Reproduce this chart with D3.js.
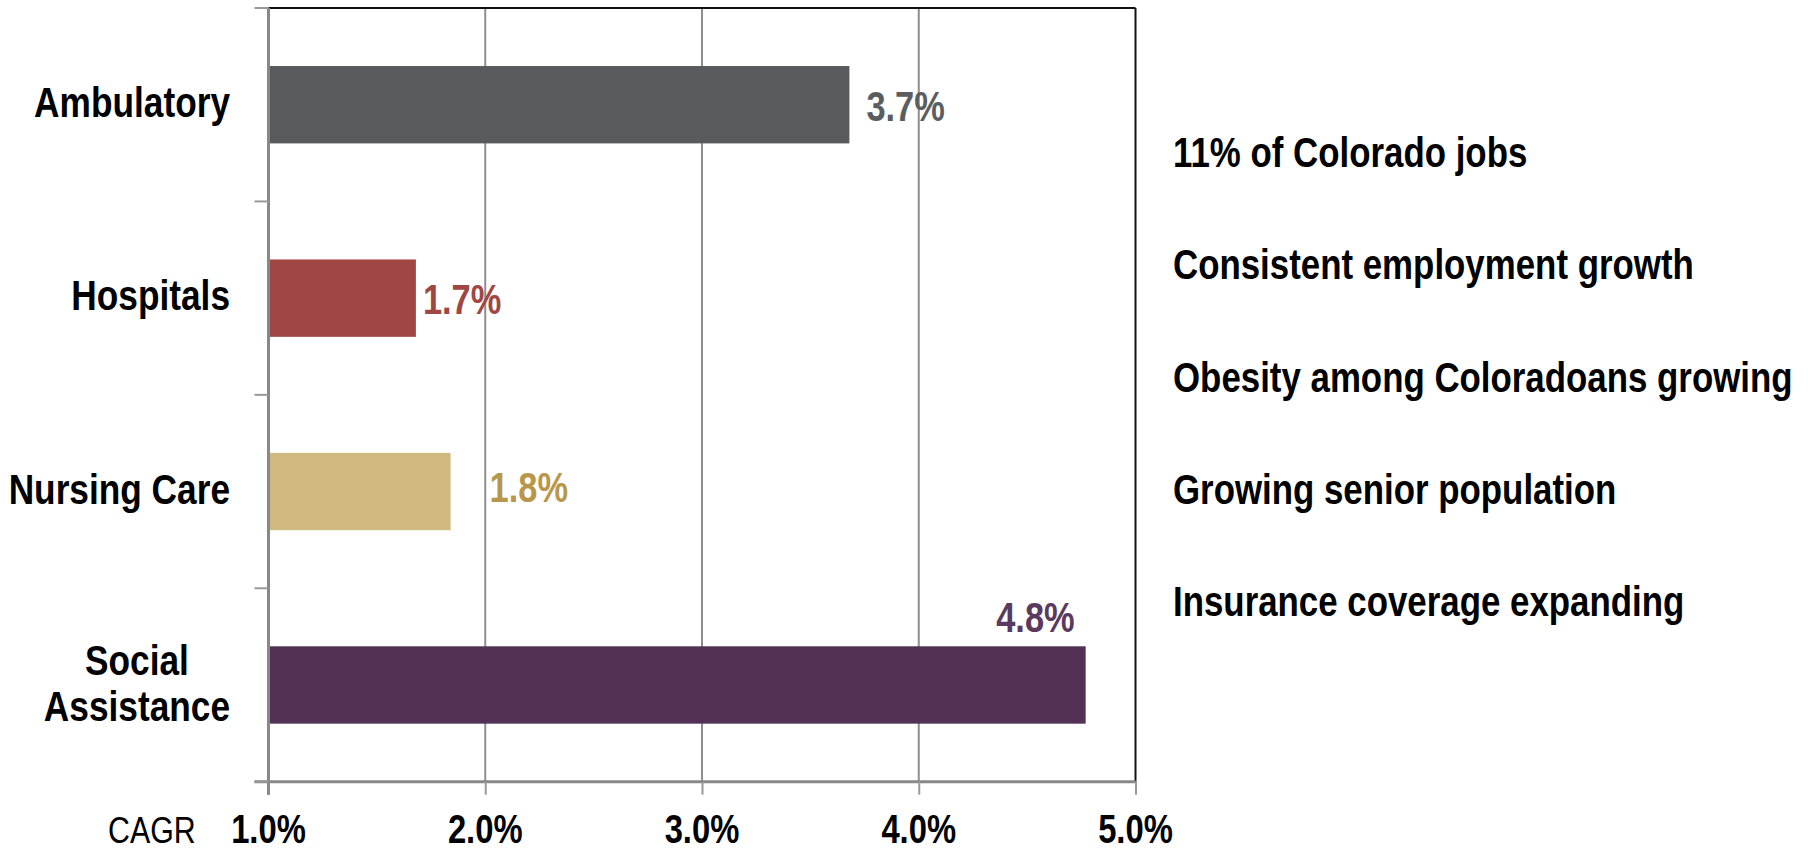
<!DOCTYPE html>
<html>
<head>
<meta charset="utf-8">
<script src="https://cdn.jsdelivr.net/npm/d3@7"></script>
<style>
  html, body { margin: 0; padding: 0; background: #fff; }
  svg { display: block; }
</style>
</head>
<body>
<div id="chart"></div>
<script>
var CATEGORIES = ["Ambulatory", "Hospitals", "Nursing Care", "Social Assistance"];
var CAGR = [3.68, 1.68, 1.84, 4.77];
var VALUE_LABELS = ["3.7%", "1.7%", "1.8%", "4.8%"];
var X_TICKS = [1, 2, 3, 4, 5];
var X_TICK_LABELS = ["1.0%", "2.0%", "3.0%", "4.0%", "5.0%"];
var DRIVERS = [
    "11% of Colorado jobs",
    "Consistent employment growth",
    "Obesity among Coloradoans growing",
    "Growing senior population",
    "Insurance coverage expanding"
];

var BAR_COLORS = ["#575b5e", "#a04744", "#cfb97e", "#533157"];
var LABEL_COLORS = ["#5b5e61", "#a04744", "#b8974a", "#5a3a5e"];
// hand placed value labels, like in the original slide
var LABEL_PLACE = [
    {dx: 17, dy: 16, anchor: "start", above: false},
    {dx: 7, dy: 16, anchor: "start", above: false},
    {dx: 39, dy: 10, anchor: "start", above: false},
    {dx: -11, dy: -14, anchor: "end", above: true}
];

var W = 1808, H = 853;
var margin = {left: 268.5, right: W - 1135.5, top: 8, bottom: H - 781.7};

// Arial Narrow look: use the narrow face if it is there, otherwise squeeze Liberation Sans
function hasFont(name){
    var c = document.createElement("canvas").getContext("2d");
    c.font = "bold 40px serif";
    var a = c.measureText("Ambulatory Coloradoans").width;
    c.font = "bold 40px \"" + name + "\", serif";
    var b = c.measureText("Ambulatory Coloradoans").width;
    return a !== b;
}
var NARROW = hasFont("Liberation Sans Narrow") ? "Liberation Sans Narrow" : (hasFont("Arial Narrow") ? "Arial Narrow" : null);
var FAMILY = NARROW ? "\"" + NARROW + "\"" : "\"Liberation Sans\", Arial, sans-serif";
var SQUEEZE = NARROW ? 1 : 0.82;

function label(g, x, y, str, o){
    return g.append("text")
        .attr("transform", "translate(" + x + "," + y + ") scale(" + SQUEEZE + ",1)")
        .attr("font-family", FAMILY)
        .attr("font-size", o.size)
        .attr("font-weight", o.weight || "bold")
        .attr("fill", o.color || "#000")
        .attr("text-anchor", o.anchor || "start")
        .text(str);
}

var svg = d3.select("#chart").append("svg")
    .attr("width", W)
    .attr("height", H);

var x = d3.scaleLinear()
    .domain([1, 5])
    .range([margin.left, W - margin.right]);

var y = d3.scaleBand()
    .domain(CATEGORIES)
    .range([margin.top, H - margin.bottom])
    .paddingInner(0.6)
    .paddingOuter(0.3);

var plotTop = margin.top, plotBottom = H - margin.bottom;

// vertical gridlines
svg.append("g")
    .selectAll("line")
    .data(X_TICKS.slice(1, -1))
    .enter().append("line")
        .attr("x1", function(d){ return x(d); })
        .attr("x2", function(d){ return x(d); })
        .attr("y1", plotTop)
        .attr("y2", plotBottom)
        .attr("stroke", "#8e8e8e")
        .attr("stroke-width", 2);

// black frame top and right
svg.append("line")
    .attr("x1", x(1)).attr("x2", x(5))
    .attr("y1", plotTop).attr("y2", plotTop)
    .attr("stroke", "#111").attr("stroke-width", 2);
svg.append("line")
    .attr("x1", x(5)).attr("x2", x(5))
    .attr("y1", plotTop).attr("y2", plotBottom)
    .attr("stroke", "#111").attr("stroke-width", 2);

// bars
svg.append("g")
    .selectAll("rect")
    .data(CAGR)
    .enter().append("rect")
        .attr("x", x(1))
        .attr("y", function(d, i){ return y(CATEGORIES[i]); })
        .attr("width", function(d){ return x(d) - x(1); })
        .attr("height", y.bandwidth())
        .attr("fill", function(d, i){ return BAR_COLORS[i]; });

// x axis
var xAxis = svg.append("g")
    .attr("transform", "translate(0," + plotBottom + ")")
    .call(d3.axisBottom(x).tickValues(X_TICKS).tickSize(13).tickFormat(""));
xAxis.select(".domain").attr("stroke", "#888").attr("stroke-width", 3).attr("d", "M" + (x(1) - 14) + ",0H" + x(5));
xAxis.selectAll(".tick line").attr("stroke", "#999").attr("stroke-width", 2);

// y axis: ticks sit on the band edges
var edges = CATEGORIES.map(function(c){ return y(c) - y.step() * y.paddingInner() / 2; });
edges[0] = plotTop;
edges.push(plotBottom);
svg.append("line")
    .attr("x1", x(1)).attr("x2", x(1))
    .attr("y1", plotTop).attr("y2", plotBottom + 13)
    .attr("stroke", "#888").attr("stroke-width", 3);
svg.append("g")
    .selectAll("line")
    .data(edges)
    .enter().append("line")
        .attr("x1", x(1) - 14).attr("x2", x(1))
        .attr("y1", function(d){ return d; })
        .attr("y2", function(d){ return d; })
        .attr("stroke", "#999").attr("stroke-width", 2);

// tick labels (kept just inside the bottom edge)
X_TICKS.forEach(function(t, i){
    label(svg, x(t), 843, X_TICK_LABELS[i], {size: 40, anchor: "middle"});
});
label(svg, 108, 843, "CAGR", {size: 37, weight: "normal"});

// category labels
CATEGORIES.forEach(function(c, i){
    var cy = y(c) + y.bandwidth() / 2;
    var words = c.split(" ");
    if (c === "Social Assistance"){
        var probe = label(svg, 0, 0, words[1], {size: 43});
        var w = probe.node().getComputedTextLength() * SQUEEZE;
        probe.remove();
        var mid = 230 - w / 2;
        label(svg, mid, cy - 10, words[0], {size: 43, anchor: "middle"});
        label(svg, mid, cy + 36, words[1], {size: 43, anchor: "middle"});
    } else {
        label(svg, 230, cy + 12, c, {size: 43, anchor: "end"});
    }
});

// value labels
CAGR.forEach(function(v, i){
    var p = LABEL_PLACE[i];
    var by = y(CATEGORIES[i]);
    var ly = p.above ? by + p.dy : by + y.bandwidth() / 2 + p.dy;
    label(svg, x(v) + p.dx, ly, VALUE_LABELS[i], {size: 42, anchor: p.anchor, color: LABEL_COLORS[i]});
});

// growth drivers on the right
DRIVERS.forEach(function(d, i){
    label(svg, 1173, 166.7 + i * 112.4, d, {size: 42.5});
});
</script>
</body>
</html>
